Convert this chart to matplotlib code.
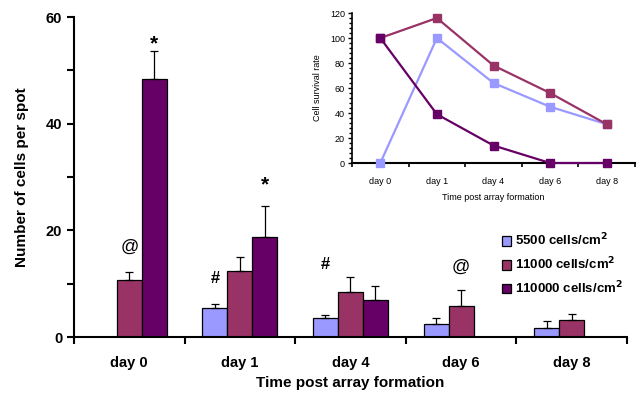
import matplotlib.pyplot as plt
import numpy as np
from matplotlib.ticker import MultipleLocator, FixedLocator

plt.rcParams["font.family"] = ["Liberation Sans", "DejaVu Sans"]

DAYS = ["day 0", "day 1", "day 4", "day 6", "day 8"]
INSET_DAYS = ["day 0", "day 1", "day 4", "day 6", "day 8"]
SERIES = ["5500 cells/cm$^\\mathbf{2}$", "11000 cells/cm$^\\mathbf{2}$",
          "110000 cells/cm$^\\mathbf{2}$"]
COLORS = ["#9999ff", "#993366", "#660066"]

# bar means and upper error
means_5500 = [0, 5.4, 3.6, 2.5, 1.7]
err_5500 = [0, 0.8, 0.5, 1.1, 1.3]
means_11000 = [10.6, 12.4, 8.5, 5.8, 3.2]
err_11000 = [1.6, 2.6, 2.8, 3.0, 1.1]
means_110000 = [48.4, 18.8, 6.9, 0, 0]
err_110000 = [5.2, 5.8, 2.7, 0, 0]

# inset: cell survival rate
surv_5500 = [0, 100, 64, 45, 31]
surv_11000 = [100, 116, 78, 56, 31]
surv_110000 = [100, 39, 14, 0, 0]

# significance marks: (day index, series index, symbol, y)
MARKS = [(0, 1, "@", 16.9), (0, 2, "*", 55.0), (1, 0, "#", 10.9),
         (1, 2, "*", 28.5), (2, 0, "#", 13.6), (3, 1, "@", 13.1)]

means = [means_5500, means_11000, means_110000]
errs = [err_5500, err_11000, err_110000]
survs = [surv_5500, surv_11000, surv_110000]

fig = plt.figure(figsize=(6.4, 3.97), dpi=100)
ax = fig.add_axes([0.1156, 0.1511, 0.8641, 0.806])

x = np.arange(len(DAYS))
w = 0.226
for i in range(3):
    pos = x + (i - 1) * w
    m = np.array(means[i], dtype=float)
    e = np.array(errs[i], dtype=float)
    ax.bar(pos, m, w, color=COLORS[i], edgecolor="black", linewidth=0.9,
           label=SERIES[i], zorder=2)
    ok = m > 0
    ax.errorbar(pos[ok], m[ok], yerr=[np.zeros(ok.sum()), e[ok]], fmt="none",
                ecolor="black", elinewidth=0.9, capsize=3, capthick=0.9, zorder=3)

sizes = {"@": 13, "*": 15, "#": 12}
for d, s, sym, y in MARKS:
    ax.text(x[d] + (s - 1) * w, y, sym, ha="center", va="center",
            fontsize=sizes[sym], fontweight="bold" if sym != "@" else "normal")

ax.set_xlim(-0.5, 4.5)
ax.set_ylim(0, 60)
for sp in ["top", "right"]:
    ax.spines[sp].set_visible(False)
ax.spines["left"].set_linewidth(1.5)
ax.spines["bottom"].set_linewidth(1.5)
ax.yaxis.set_major_locator(MultipleLocator(20))
ax.yaxis.set_minor_locator(MultipleLocator(10))
ax.tick_params(axis="y", which="both", direction="out", length=5, width=1.5,
               labelsize=10.5)
for lab in ax.get_yticklabels():
    lab.set_fontweight("bold")
ax.xaxis.set_major_locator(FixedLocator(np.arange(-0.5, 5, 1)))
ax.xaxis.set_minor_locator(FixedLocator(x))
ax.xaxis.set_major_formatter(plt.NullFormatter())
ax.set_xticks(x, DAYS, minor=True)
ax.tick_params(axis="x", which="major", direction="out", length=5, width=1.5)
ax.tick_params(axis="x", which="minor", length=0, pad=14, labelsize=10.5)
for lab in ax.get_xticklabels(minor=True):
    lab.set_fontweight("bold")
ax.set_xlabel("Time post array formation", fontsize=11, fontweight="bold",
              labelpad=4)
ax.set_ylabel("Number of cells per spot", fontsize=11, fontweight="bold",
              labelpad=12)

leg = ax.legend(loc="upper left", bbox_to_anchor=(0.752, 0.365),
                frameon=False, handlelength=0.7, handleheight=0.7,
                handletextpad=0.3, labelspacing=0.55,
                prop={"weight": "bold", "size": 9.5})

# inset
ins = fig.add_axes([0.55, 0.5894, 0.4422, 0.3778])
xi = np.arange(len(INSET_DAYS))
for i in range(3):
    ins.plot(xi, survs[i], color=COLORS[i], linewidth=1.6, marker="s",
             markersize=6, markeredgecolor=COLORS[i], clip_on=False, zorder=3)
ins.set_xlim(-0.5, 4.5)
ins.set_ylim(0, 120)
for sp in ["top", "right"]:
    ins.spines[sp].set_visible(False)
ins.spines["left"].set_linewidth(1.2)
ins.spines["bottom"].set_linewidth(1.5)
ins.yaxis.set_major_locator(MultipleLocator(20))
ins.yaxis.set_minor_locator(MultipleLocator(4))
ins.tick_params(axis="y", which="major", length=3, width=1, labelsize=6.5, pad=2)
ins.tick_params(axis="y", which="minor", length=2, width=1)
ins.xaxis.set_major_locator(FixedLocator(np.arange(-0.5, 5, 1)))
ins.xaxis.set_major_formatter(plt.NullFormatter())
ins.set_xticks(xi, INSET_DAYS, minor=True)
ins.tick_params(axis="x", which="major", direction="out", length=3, width=1.2)
ins.tick_params(axis="x", which="minor", length=0, pad=10, labelsize=6.5)
ins.set_xlabel("Time post array formation", fontsize=6.5, labelpad=5)
ins.set_ylabel("Cell survival rate", fontsize=6.5, labelpad=6)

fig.savefig("out.png", dpi=100)
